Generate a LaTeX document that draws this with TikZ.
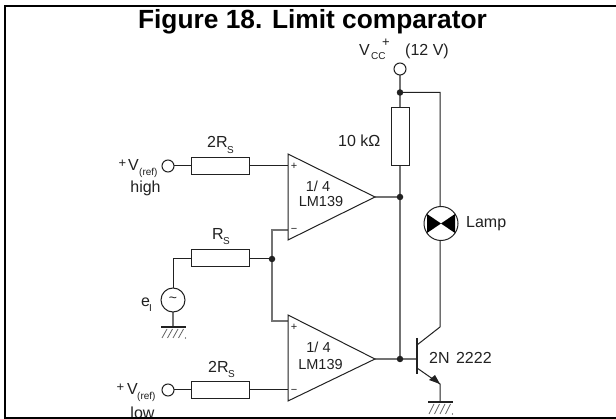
\documentclass[tikz,border=0pt]{standalone}
\usepackage{fontspec}
\setmainfont{Liberation Sans}
\definecolor{ink}{gray}{0.13}
\tikzset{
  x=1pt,y=-1pt,
  wire/.style={draw=ink,line width=1pt},
  grey wire/.style={draw=black!55,line width=1.2pt},
  comp/.style={draw=ink,line width=1pt,fill=white},
  res/.style={comp,rectangle,minimum width=#1,inner sep=0pt},
  term/.style={comp,circle,minimum size=12pt,inner sep=0pt},
  dotj/.style={circle,fill=ink,minimum size=6.5pt,inner sep=0pt},
  lbl/.style={text=ink,font=\fontsize{16}{18}\selectfont,inner sep=0pt,anchor=base west},
  amp/.style={text=ink,font=\fontsize{14.5}{16}\selectfont,inner sep=0pt,anchor=base},
  subl/.style={text=ink,font=\fontsize{10}{12}\selectfont,inner sep=0pt,anchor=base west},
  signl/.style={text=ink,font=\fontsize{11}{12}\selectfont,inner sep=0pt},
  gbar/.style={draw=ink,line width=2.2pt},
  hatchl/.style={draw=ink!70,line width=0.8pt},
  frameline/.style={draw=black,line width=2pt},
}
\begin{document}
\begin{tikzpicture}
\useasboundingbox (0,0) rectangle (616,419);
\fill[white] (0,0) rectangle (616,419);
\node[font=\bfseries\fontsize{26.3}{30}\selectfont,anchor=base,inner sep=0pt] (title) at (312.5,29) {Figure 18. Limit comparator};

% coordinates
\coordinate (vccj) at (400,92.5);
\coordinate (outj) at (400,197);
\coordinate (basej) at (400,359);
\coordinate (rsj) at (272,259);
\coordinate (tip1) at (375,197);
\coordinate (tip2) at (375,359);
\coordinate (in1p) at (288,166);
\coordinate (in1m) at (288,230);
\coordinate (in2p) at (288,321);
\coordinate (in2m) at (288,390);
\coordinate (ltop) at (440,92.5);
\coordinate (cup) at (440,327);
\coordinate (cb) at (417,345);
\coordinate (eb) at (417,368);
\coordinate (el) at (440,384);
\coordinate (g2) at (440,402);
\coordinate (g1) at (173,327);
\coordinate (b) at (417,359);

% wires
\draw[wire] (168,166) -- (in1p);
\draw[wire] (168,390) -- (in2m);
\draw[grey wire] (in1m) -| (rsj);
\draw[grey wire] (in2p) -| (rsj);
\draw[wire] (173,288) |- (rsj);
\draw[grey wire] (173,300) -- (g1);
\draw[grey wire] (400,69) -- (basej);
\draw[grey wire] (tip1) -- (outj);
\draw[grey wire] (tip2) -- (b);
\draw[wire] (vccj) -- (ltop) -- (cup) -- (cb);
\draw[wire] (eb) -- (el) -- (g2);

% op amps
\draw[comp] (288,154) -- (tip1) -- (288,240) -- cycle;
\draw[comp] (288,315) -- (tip2) -- (288,401) -- cycle;
\node[signl] (p1) at (294,166) {+};
\node[signl] (m1) at (294,230) {−};
\node[signl] (p2) at (294,327) {+};
\node[signl] (m2) at (294,391) {−};
\node[amp] (u1a) at (318,192) {1/ 4};
\node[amp] (u1b) at (321,207) {LM139};
\node[amp] (u2a) at (318.5,353) {1/ 4};
\node[amp] (u2b) at (320.5,370) {LM139};

% resistors
\node[res=58.5pt,minimum height=17.5pt] (r1) at (220.5,166) {};
\node[res=58.5pt,minimum height=17.5pt] (r2) at (220.5,258) {};
\node[res=58.5pt,minimum height=17.5pt] (r3) at (220.5,390) {};
\node[res=17.5pt,minimum height=58pt] (r4) at (400.5,137) {};

% terminals
\node[term] (t1) at (168,166) {};
\node[term] (t2) at (168,390) {};
\node[term] (t3) at (400,69) {};

% junctions
\foreach \n in {vccj,outj,basej,rsj}{\node[dotj] at (\n) {};}

% source
\node[comp,circle,minimum size=24pt,inner sep=0pt] (src) at (173,300) {};
\node[text=ink,font=\fontsize{14}{16}\selectfont,inner sep=0pt] (til) at (173,300) {\char"7E};

% lamp
\node[comp,circle,minimum size=34pt,inner sep=0pt] (lamp) at (441,223.5) {};
\fill[black] (427,214) -- (441,223.5) -- (455,214) -- (455,233) -- (441,223.5) -- (427,233) -- cycle;

% transistor
\draw[draw=ink,line width=2.2pt] (417,338) -- (417,374);
\fill[ink] (440,384) -- (429,380) -- (435,375) -- cycle;

% grounds
\draw[gbar] (161,327) -- (186,327);
\draw[gbar] (428,402) -- (453,402);
\foreach \i in {0,1,2,3}{
  \draw[hatchl] (167+5.5*\i,329) -- (162+5.5*\i,338);
  \draw[hatchl] (434+5.5*\i,404) -- (429+5.5*\i,414);
}
\fill[ink] (185.5,338) circle (0.6pt);
\fill[ink] (452.5,414) circle (0.6pt);

% labels
\node[subl,font=\fontsize{13}{14}\selectfont] (pv1) at (118.5,168) {+};
\node[lbl] (v1) at (128,171) {V};
\node[subl] (rf1) at (139,176) {(ref)};
\node[lbl,anchor=base] (hi) at (145.5,193) {high};
\node[subl,font=\fontsize{13}{14}\selectfont] (pv2) at (116.5,392) {+};
\node[lbl] (v2) at (127,395) {V};
\node[subl] (rf2) at (137,400) {(ref)};
\node[lbl,anchor=base] (lo) at (142.5,419) {low};
\node[lbl] (a1) at (207,148) {2R};
\node[subl] (a2) at (227,154) {S};
\node[lbl] (b1) at (212,240) {R};
\node[subl] (b2) at (223,245) {S};
\node[lbl] (c1) at (208,373) {2R};
\node[subl] (c2) at (228,378) {S};
\node[lbl] (e1) at (141,307) {e};
\node[subl] (e2) at (149,312) {I};
\node[lbl] (tenk) at (338,147) {10 kΩ};
\node[lbl] (vc1) at (359,56) {V};
\node[subl] (vc2) at (371,60) {CC};
\node[subl,font=\fontsize{13}{14}\selectfont] (vc3) at (382,47) {+};
\node[lbl] (twv) at (405,56) {(12 V)};
\node[lbl] (lam) at (466,228) {Lamp};
\node[lbl] (tr) at (429,364) {2N\hspace{2pt} 2222};

% frame
\draw[frameline] (616,6) -- (5,6) -- (5,418) -- (616,418);
\end{tikzpicture}
\end{document}
